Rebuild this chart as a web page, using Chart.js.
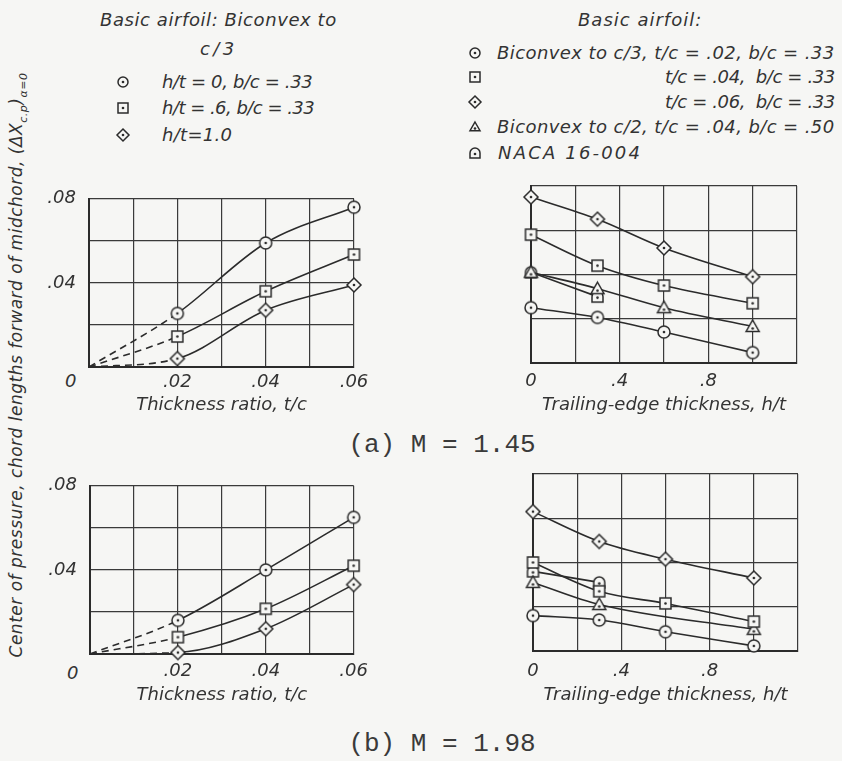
<!DOCTYPE html>
<html>
<head>
<meta charset="utf-8">
<script src="https://cdn.jsdelivr.net/npm/chart.js@4/dist/chart.umd.min.js"></script>
<style>
  body { margin: 0; background: #f6f6f4; }
  #page { position: relative; width: 842px; height: 761px; overflow: hidden; color: #333;
          font-family: "DejaVu Sans", "Liberation Sans", sans-serif; font-style: oblique; font-weight: 400; }
  .t { position: absolute; white-space: nowrap; font-size: 18px; line-height: 20px; }
  .sym { position: absolute; }
  canvas.plot { position: absolute; }
  .cap { position: absolute; white-space: nowrap; font-family: "Liberation Mono", "DejaVu Sans Mono", monospace;
         font-style: normal; font-weight: 400; font-size: 26px; transform: translate(-50%, -50%); color: #3a3a3a; }
  #ytitle { position: absolute; left: 18px; top: 365px; font-size: 17px; white-space: nowrap;
            transform: translate(-50%, -50%) rotate(-90deg); }
  #ytitle sub { font-size: 11px; }
</style>
</head>
<body>
<div id="page">
  <!-- left legend -->
  <div class="t" data-fit="237" style="left:100px; top:10px;">Basic airfoil: Biconvex to</div>
  <div class="t" data-fit="37" style="left:200px; top:39px;">c/3</div>
  <div class="t" data-fit="151" style="left:162px; top:72px;">h/t = 0, b/c = .33</div>
  <div class="t" data-fit="152" style="left:162px; top:98px;">h/t = .6, b/c = .33</div>
  <div class="t" data-fit="70" style="left:162px; top:125px;">h/t=1.0</div>

  <!-- right legend -->
  <div class="t" data-fit="124" style="left:578px; top:10px;">Basic airfoil:</div>
  <div class="t" data-fit="338" style="left:497px; top:43px;">Biconvex to c/3, t/c = .02, b/c = .33</div>
  <div class="t" data-fit="170" style="left:665px; top:67px;">t/c = .04,&nbsp; b/c = .33</div>
  <div class="t" data-fit="170" style="left:665px; top:92px;">t/c = .06,&nbsp; b/c = .33</div>
  <div class="t" data-fit="338" style="left:497px; top:117px;">Biconvex to c/2, t/c = .04, b/c = .50</div>
  <div class="t" data-fit="144" style="left:498px; top:143px;">NACA 16-004</div>

  <div id="ytitle">Center of pressure, chord lengths forward of midchord, (&Delta;X<sub>c.p</sub>)<sub>&alpha;=0</sub></div>

  <div class="t" style="left:65px; top:371px;">0</div>
  <div class="t" style="left:67px; top:663px;">0</div>

  <div class="cap" style="left:442px; top:445px;">(a) M = 1.45</div>
  <div class="cap" style="left:442px; top:744px;">(b) M = 1.98</div>

  <canvas class="plot" id="tl" width="345" height="245" style="left:30px; top:175px;"></canvas>
  <canvas class="plot" id="tr" width="330" height="249" style="left:500px; top:171px;"></canvas>
  <canvas class="plot" id="bl" width="345" height="256" style="left:30px; top:462px;"></canvas>
  <canvas class="plot" id="br" width="330" height="259" style="left:500px; top:459px;"></canvas>
</div>

<script>
// x positions
const thickRatio = [0, 0.02, 0.04, 0.06];
const teThick = [0, 0.3, 0.6, 1.0];
const teThickShort = [0, 0.3];
const teThickTri = [0, 0.3, 1.0];

// tick labels
const thickTickLabels = ['.02', '.04', '.06'];
const teTickLabels = ['0', '.4', '.8'];
const cpTickLabels = ['.04', '.08'];

// (a) M = 1.45, against t/c
const m145_h0 = [0, 0.0255, 0.059, 0.076];
const m145_h06 = [0, 0.0145, 0.036, 0.0535];
const m145_h10 = [0, 0.004, 0.027, 0.039];
// (a) M = 1.45, against h/t
const m145_tc02 = [0.025, 0.0206, 0.014, 0.0047];
const m145_tc04 = [0.058, 0.044, 0.035, 0.027];
const m145_tc06 = [0.075, 0.065, 0.052, 0.039];
const m145_c2 = [0.041, 0.0336, 0.025, 0.0165];
const m145_naca = [0.041, 0.030];

// (b) M = 1.98, against t/c
const m198_h0 = [0, 0.016, 0.040, 0.065];
const m198_h06 = [0, 0.008, 0.0215, 0.042];
const m198_h10 = [0, 0.0007, 0.012, 0.033];
// (b) M = 1.98, against h/t
const m198_tc02 = [0.016, 0.014, 0.0087, 0.0023];
const m198_tc04 = [0.040, 0.027, 0.0215, 0.0133];
const m198_tc06 = [0.063, 0.0495, 0.0415, 0.033];
const m198_c2 = [0.031, 0.021, 0.0098];
const m198_naca = [0.036, 0.031];

const INK = '#2b2b2b';
const PAPER = '#f6f6f4';
const FONT = '"DejaVu Sans", "Liberation Sans", sans-serif';

// open symbols with a centre dot
function symbol(kind, s) {
  const n = s + 4;
  const c = document.createElement('canvas');
  c.width = n; c.height = n;
  const g = c.getContext('2d');
  const m = n / 2, h = s / 2;
  g.strokeStyle = INK; g.fillStyle = PAPER; g.lineWidth = 1.5;
  g.beginPath();
  let dy = 0;
  if (kind === 'circle') g.arc(m, m, h, 0, Math.PI * 2);
  else if (kind === 'square') g.rect(m - h, m - h, s, s);
  else if (kind === 'diamond') {
    g.moveTo(m, m - h); g.lineTo(m + h, m); g.lineTo(m, m + h); g.lineTo(m - h, m); g.closePath();
  } else if (kind === 'triangle') {
    g.moveTo(m, m - h); g.lineTo(m + h, m + h * 0.75); g.lineTo(m - h, m + h * 0.75); g.closePath();
    dy = h * 0.3;
  } else if (kind === 'naca') {
    g.moveTo(m - h, m + h); g.lineTo(m - h, m); g.arc(m, m, h, Math.PI, 0); g.lineTo(m + h, m + h); g.closePath();
    dy = h * 0.2;
  }
  g.fill(); g.stroke();
  g.beginPath(); g.fillStyle = INK; g.arc(m, m + dy, 1.3, 0, Math.PI * 2); g.fill();
  return c;
}

const sym = {
  circle: symbol('circle', 12), square: symbol('square', 11), diamond: symbol('diamond', 14),
  triangle: symbol('triangle', 13), naca: symbol('naca', 11)
};

// legend symbols
const page = document.getElementById('page');
[['circle', 123, 82], ['square', 123, 108], ['diamond', 123, 135],
 ['circle', 475, 53], ['square', 475, 77], ['diamond', 475, 102], ['triangle', 475, 127], ['naca', 475, 153]]
  .forEach(([k, x, y]) => {
    const c = symbol(k, k === 'diamond' ? 12 : 10);
    c.className = 'sym';
    c.style.left = (x - c.width / 2) + 'px';
    c.style.top = (y - c.height / 2) + 'px';
    page.appendChild(c);
  });

// stretch lettering to its drawn width
document.querySelectorAll('[data-fit]').forEach(el => {
  const target = +el.dataset.fit;
  const w0 = el.offsetWidth;
  el.style.letterSpacing = ((target - w0) / el.textContent.length) + 'px';
});
(function () {
  const el = document.getElementById('ytitle');
  const w0 = el.offsetWidth;
  el.style.letterSpacing = ((585 - w0) / el.textContent.length) + 'px';
})();

function series(xs, ys, pt, dashFirst) {
  return {
    data: xs.map((x, i) => ({ x: x, y: ys[i] })),
    pointStyle: pt,
    pointRadius: ctx => (dashFirst && ctx.dataIndex === 0) ? 0 : 6,
    borderColor: INK,
    borderWidth: 1.6,
    fill: false,
    clip: false,
    cubicInterpolationMode: 'monotone',
    segment: { borderDash: ctx => (dashFirst && ctx.p0DataIndex === 0) ? [7, 5] : undefined }
  };
}

function pick(labels) {
  return v => {
    const hit = labels.find(l => Math.abs(Number(l) - v) < 1e-9);
    return hit === undefined ? '' : hit;
  };
}

const tickFont = { family: FONT, size: 18, style: 'oblique' };
const titleFont = { family: FONT, size: 18, style: 'oblique' };

function plot(id, datasets, o) {
  new Chart(document.getElementById(id), {
    type: 'line',
    data: { datasets: datasets },
    options: {
      responsive: false,
      animation: false,
      layout: { padding: { top: 15, right: o.padRight, left: 0, bottom: 0 } },
      plugins: { legend: { display: false }, tooltip: { enabled: false } },
      scales: {
        x: {
          type: 'linear', min: 0, max: o.xMax,
          afterFit: s => { s.height = o.xHeight; },
          grid: { color: '#3a3a3a', lineWidth: 1.2, drawTicks: false },
          border: { color: INK, width: 2 },
          ticks: { stepSize: o.xStep, autoSkip: false, maxRotation: 0, padding: o.tickPad,
                   color: '#333', font: tickFont, callback: pick(o.xLabels) },
          title: { display: true, text: o.title, color: '#333', padding: { top: 0, bottom: o.titlePad },
                   font: titleFont }
        },
        y: {
          min: 0, max: 0.08,
          afterFit: s => { s.width = o.yWidth; },
          grid: { color: '#3a3a3a', lineWidth: 1.2, drawTicks: false },
          border: { color: INK, width: 2 },
          ticks: { stepSize: 0.02, autoSkip: false, padding: 13, display: o.yLabels.length > 0,
                   color: '#333', font: tickFont, callback: pick(o.yLabels) }
        }
      }
    }
  });
}

plot('tl', [
  series(thickRatio, m145_h0, sym.circle, true),
  series(thickRatio, m145_h06, sym.square, true),
  series(thickRatio, m145_h10, sym.diamond, true)
], { xMax: 0.06, xStep: 0.01, xLabels: thickTickLabels, yLabels: cpTickLabels, yWidth: 59, xHeight: 53,
     padRight: 21, tickPad: 5, titlePad: 4, title: 'Thickness ratio, t/c' });

plot('tr', [
  series(teThick, m145_tc02, sym.circle, false),
  series(teThick, m145_tc04, sym.square, false),
  series(teThick, m145_tc06, sym.diamond, false),
  series(teThick, m145_c2, sym.triangle, false),
  series(teThickShort, m145_naca, sym.naca, false)
], { xMax: 1.2, xStep: 0.2, xLabels: teTickLabels, yLabels: [], yWidth: 31, xHeight: 57,
     padRight: 33, tickPad: 8, titlePad: 4, title: 'Trailing-edge thickness, h/t' });

plot('bl', [
  series(thickRatio, m198_h0, sym.circle, true),
  series(thickRatio, m198_h06, sym.square, true),
  series(thickRatio, m198_h10, sym.diamond, true)
], { xMax: 0.06, xStep: 0.01, xLabels: thickTickLabels, yLabels: cpTickLabels, yWidth: 60, xHeight: 64,
     padRight: 19, tickPad: 7, titlePad: 12, title: 'Thickness ratio, t/c' });

plot('br', [
  series(teThick, m198_tc02, sym.circle, false),
  series(teThick, m198_tc04, sym.square, false),
  series(teThick, m198_tc06, sym.diamond, false),
  series(teThickTri, m198_c2, sym.triangle, false),
  series(teThickShort, m198_naca, sym.naca, false)
], { xMax: 1.2, xStep: 0.2, xLabels: teTickLabels, yLabels: [], yWidth: 33, xHeight: 67,
     padRight: 32, tickPad: 10, titlePad: 12, title: 'Trailing-edge thickness, h/t' });
</script>
</body>
</html>
